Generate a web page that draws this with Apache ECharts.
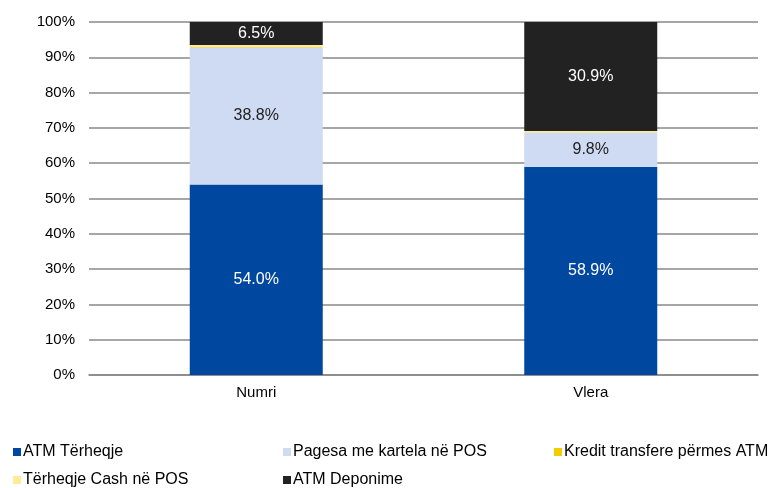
<!DOCTYPE html>
<html>
<head>
<meta charset="utf-8">
<script src="https://cdn.jsdelivr.net/npm/echarts@6/dist/echarts.min.js"></script>
<style>
  html, body { margin: 0; padding: 0; background: #fff; }
  #main { width: 772px; height: 488px; }
</style>
</head>
<body>
<div id="main"></div>
<script>
// te dhenat
var categories = ["Numri", "Vlera"];
var seriesNames = ["ATM Tërheqje", "Pagesa me kartela në POS", "Kredit transfere përmes ATM", "Tërheqje Cash në POS", "ATM Deponime"];
var atmTerheqje = [54.0, 58.9];
var pagesaPos = [38.8, 9.8];
var kreditAtm = [0.2, 0.1];
var cashPos = [0.5, 0.3];
var atmDeponime = [6.5, 30.9];
var yTicks = [0, 10, 20, 30, 40, 50, 60, 70, 80, 90, 100];

var colors = ["#0047A0", "#CFDBF3", "#F2CD00", "#FDEB99", "#222222"];
var labelColors = ["#ffffff", "#222222", null, null, "#ffffff"];
var values = [atmTerheqje, pagesaPos, kreditAtm, cashPos, atmDeponime];

var myChart = echarts.init(document.getElementById("main"));

var series = seriesNames.map(function (name, i) {
  return {
    name: name,
    type: "bar",
    stack: "total",
    barWidth: 133,
    data: values[i],
    itemStyle: { color: colors[i] },
    label: {
      show: labelColors[i] !== null,
      position: "inside",
      color: labelColors[i] || "#000",
      fontFamily: "Liberation Sans, Arial",
      fontSize: 16,
      formatter: function (p) { return p.value.toFixed(1) + "%"; }
    }
  };
});

// legjenda: nje per cdo element, ne rrjete
var legendPos = [[13, 444], [283, 444], [554, 444], [13, 472], [283, 472]];
var legends = seriesNames.map(function (name, i) {
  return {
    data: [name],
    left: legendPos[i][0],
    top: legendPos[i][1],
    icon: "rect",
    itemWidth: 8,
    itemHeight: 8,
    itemGap: 0,
    padding: 0,
    textStyle: { fontFamily: "Liberation Sans, Arial", fontSize: 16, color: "#000", padding: [0, 0, 0, -3] }
  };
});

var option = {
  animation: false,
  color: colors,
  grid: { left: 89, right: 14, top: 22, bottom: 113 },
  legend: legends,
  xAxis: {
    type: "category",
    data: categories,
    axisLine: { lineStyle: { color: "#888", width: 1.5 } },
    axisTick: { show: false },
    axisLabel: { color: "#000", fontFamily: "Liberation Sans, Arial", fontSize: 15, margin: 10 }
  },
  yAxis: {
    type: "value",
    min: yTicks[0],
    max: yTicks[yTicks.length - 1],
    interval: 10,
    axisLine: { show: false },
    axisTick: { show: false },
    splitLine: { lineStyle: { color: "#888", width: 1.5 } },
    axisLabel: {
      color: "#000",
      fontFamily: "Liberation Sans, Arial",
      fontSize: 15,
      margin: 14,
      formatter: function (v) { return v + "%"; }
    }
  },
  series: series
};

myChart.setOption(option);
</script>
</body>
</html>
